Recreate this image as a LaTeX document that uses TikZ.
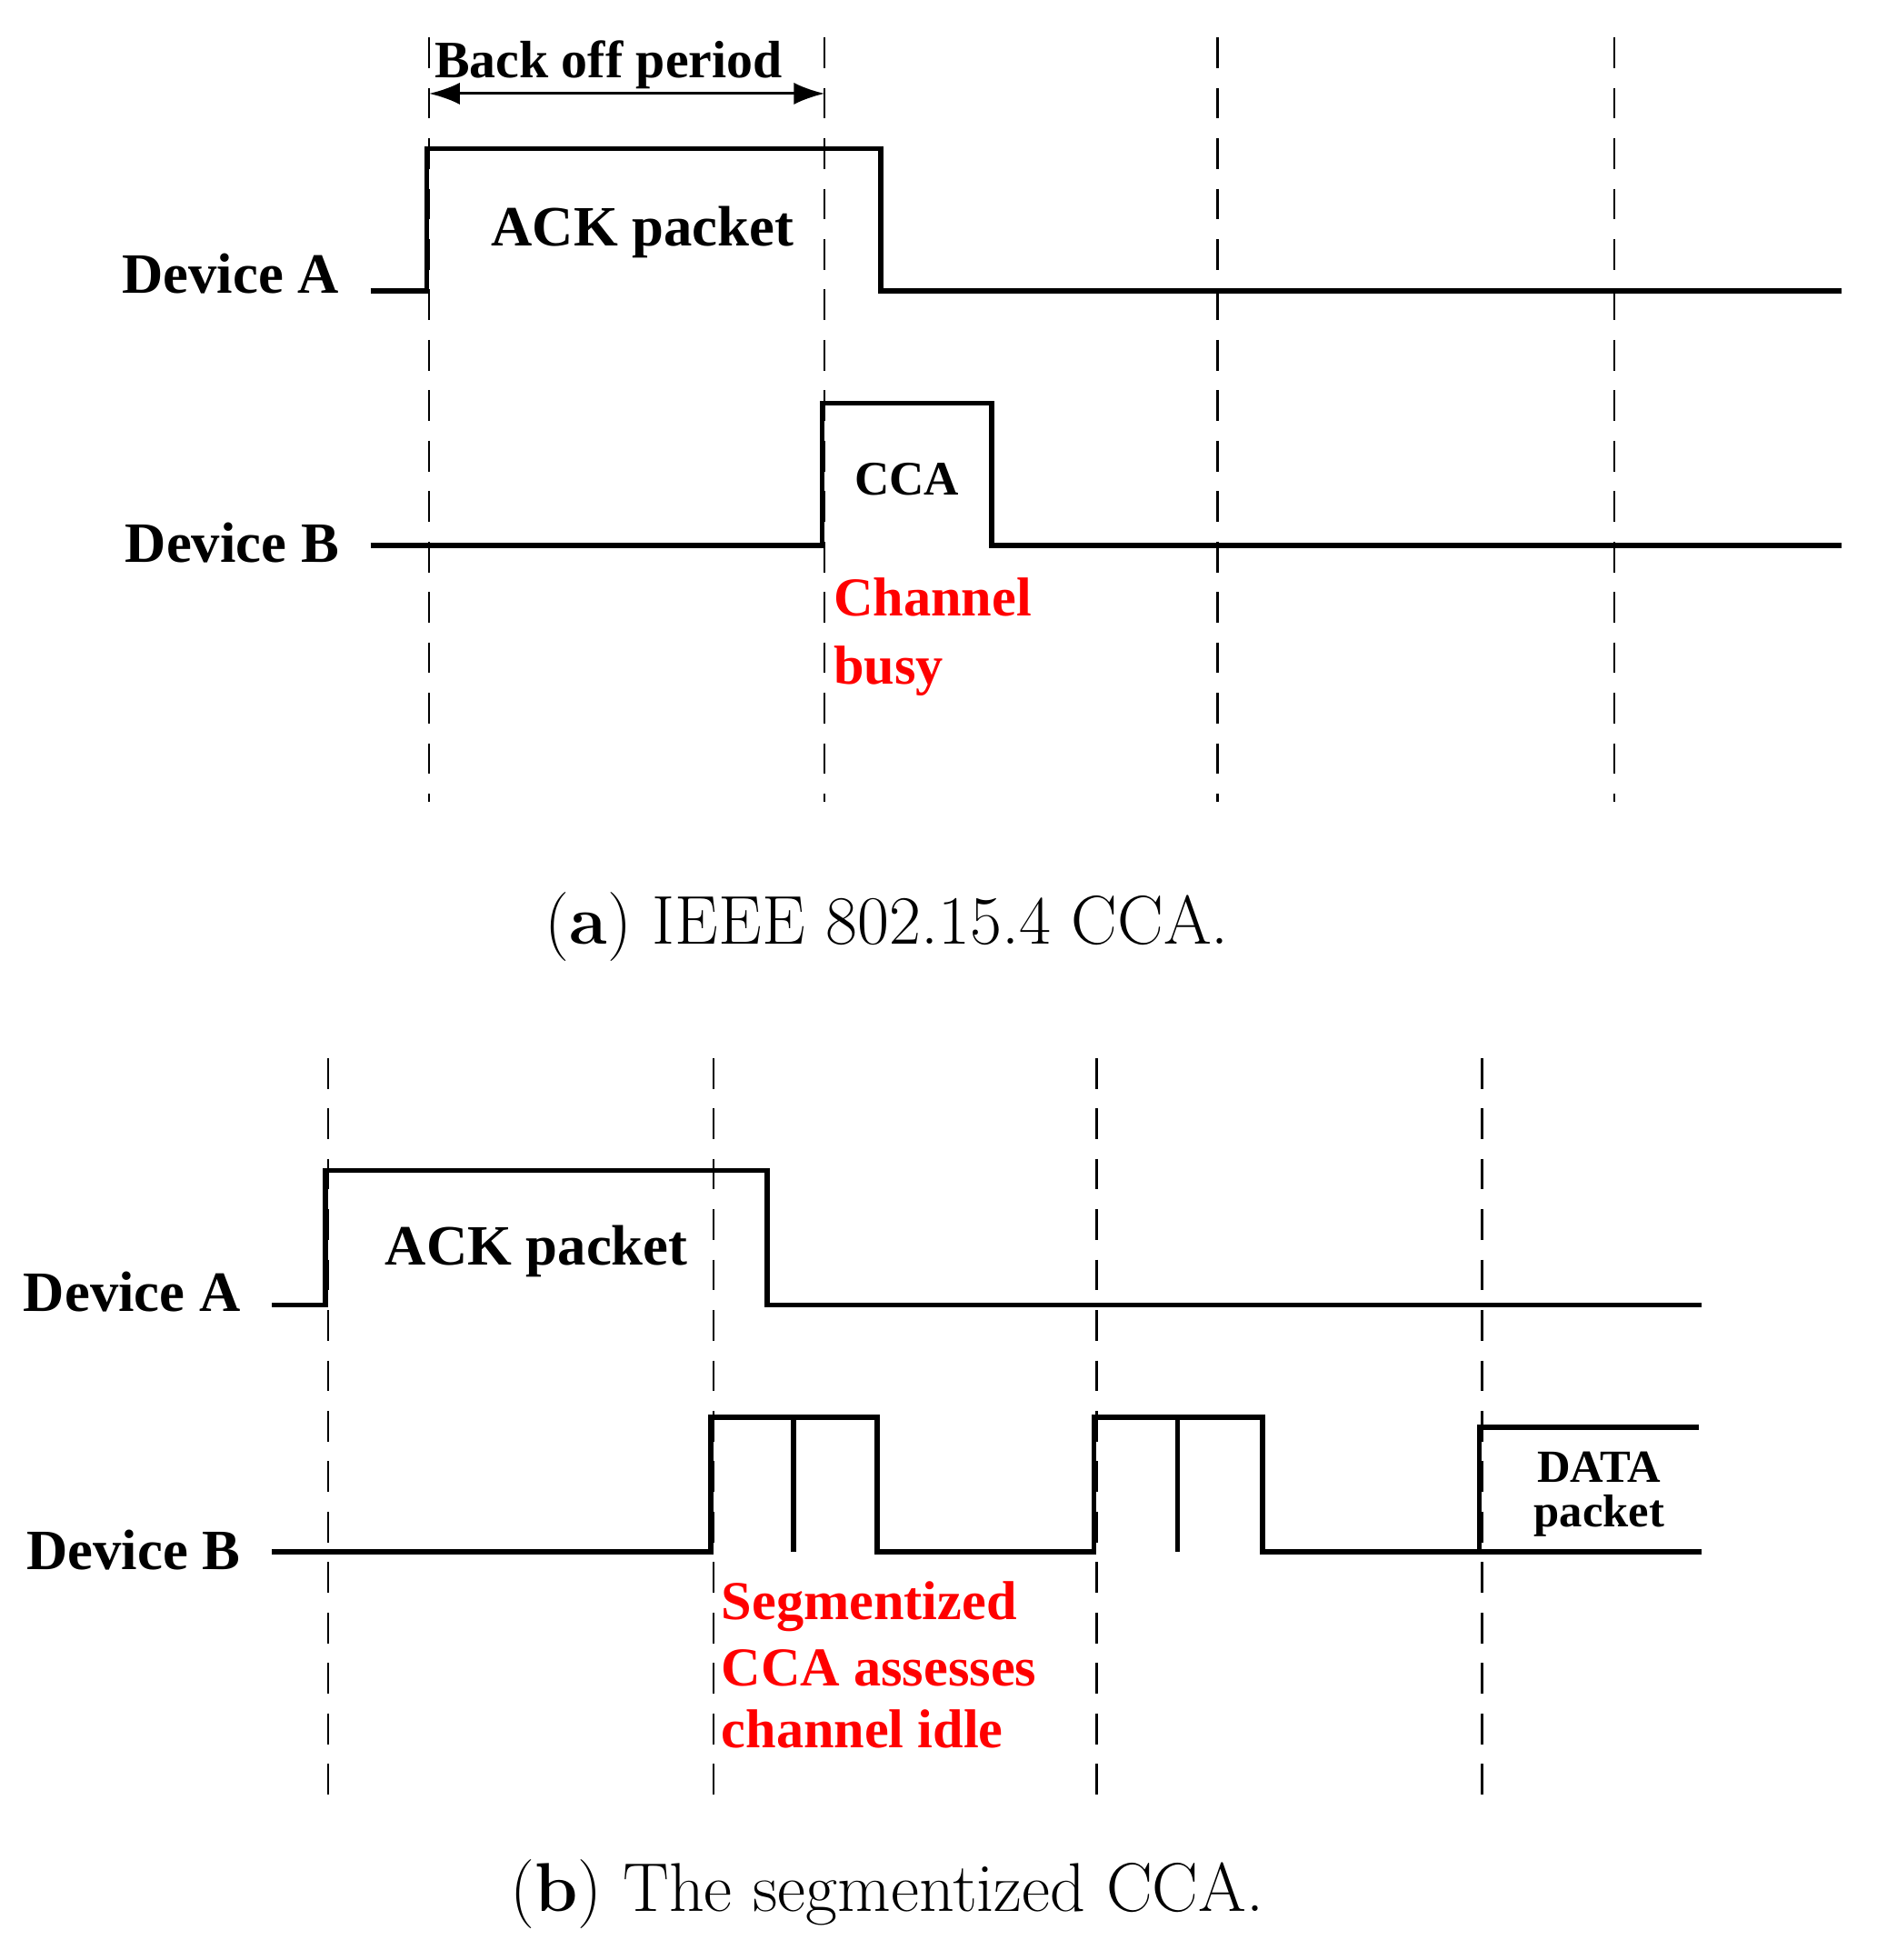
\documentclass[tikz,border=0pt]{standalone}
\usepackage{fontspec}
\newfontfamily\tnr{Liberation Serif}
\usetikzlibrary{arrows.meta}
\begin{document}
\begin{tikzpicture}[x=0.02cm,y=-0.02cm,
 sig/.style={line width=2.3pt},
 gridln/.style={line width=1.1pt,dash pattern=on 14pt off 9pt},
 lab/.style={font=\tnr\bfseries\fontsize{26}{30}\selectfont,inner sep=0pt},
 redlab/.style={lab,text=red,anchor=base west,font=\tnr\bfseries\fontsize{25}{30}\selectfont},
 captxt/.style={font=\fontsize{31.5}{36}\selectfont,inner sep=0pt}]
\useasboundingbox (0,0) rectangle (1520,1571);
% panel a
\foreach \x/\n in {344/a1,661/a2,976/a3,1294/a4}{
 \coordinate (\n t) at (\x,30); \coordinate (\n b) at (\x,643);
 \draw[gridln] (\n t) -- (\n b);}
\coordinate (aAs) at (297,233); \coordinate (aAe) at (1476,233);
\draw[sig] (aAs) -- (342,233) |- (706,119) -- (706,233) -- (aAe);
\coordinate (aBs) at (297,437); \coordinate (aBe) at (1476,437);
\draw[sig] (aBs) -- (659,437) |- (795,323) -- (795,437) -- (aBe);
\node[lab,anchor=base east] (lA) at (272,235) {Device A};
\node[lab,anchor=base east] (lB) at (272,451) {Device B};
\node[lab,anchor=base] (ack) at (515,197) {ACK packet};
\node[lab,anchor=base,font=\tnr\bfseries\fontsize{22}{26}\selectfont] (cca) at (727,397) {CCA};
\node[redlab] (cb1) at (668,494) {Channel};
\node[redlab] (cb2) at (668,548) {busy};
\coordinate (bo1) at (344,75); \coordinate (bo2) at (661,75);
\draw[line width=1.3pt,{Latex[length=14pt,width=10pt]}-{Latex[length=14pt,width=10pt]}] (bo1) -- (bo2);
\node[lab,anchor=base west,font=\tnr\bfseries\fontsize{24}{28}\selectfont] (bop) at (348,62) {Back off period};
\node[captxt,anchor=base] (capa) at (711,757) {(\textbf{a}) IEEE 802.15.4 CCA.};
% panel b
\foreach \x/\n in {263/b1,572/b2,879/b3,1188/b4}{
 \coordinate (\n t) at (\x,848); \coordinate (\n b) at (\x,1445);
 \draw[gridln] (\n t) -- (\n b);}
\coordinate (bAs) at (218,1046); \coordinate (bAe) at (1364,1046);
\draw[sig] (bAs) -- (261,1046) |- (615,938) -- (615,1046) -- (bAe);
\coordinate (bBs) at (218,1244); \coordinate (bBe) at (1364,1244);
\draw[sig] (bBs) -- (570,1244) |- (703,1136) -- (703,1244) -- (877,1244) |- (1012,1136) -- (1012,1244) -- (bBe);
\draw[sig] (636,1136) -- (636,1244);
\draw[sig] (944,1136) -- (944,1244);
\coordinate (dte) at (1362,1144);
\draw[sig] (1186,1244) |- (dte);
\node[lab,anchor=base east] (lA2) at (193,1051) {Device A};
\node[lab,anchor=base east] (lB2) at (193,1258) {Device B};
\node[lab,anchor=base] (ack2) at (430,1014) {ACK packet};
\node[lab,anchor=base,font=\tnr\bfseries\fontsize{21}{24}\selectfont] (d1) at (1282,1188) {DATA};
\node[lab,anchor=base,font=\tnr\bfseries\fontsize{21}{24}\selectfont] (d2) at (1282,1224) {packet};
\node[redlab] (s1) at (578,1298) {Segmentized};
\node[redlab] (s2) at (578,1351) {CCA assesses};
\node[redlab] (s3) at (578,1401) {channel idle};
\node[captxt,anchor=base] (capb) at (711,1532) {(\textbf{b}) The segmentized CCA.};
\end{tikzpicture}
\end{document}
